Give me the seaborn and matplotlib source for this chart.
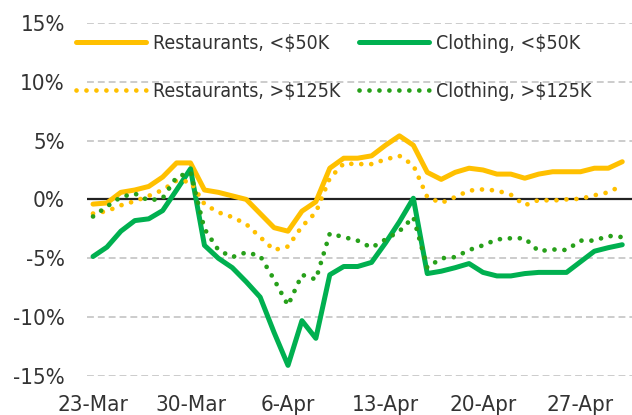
import pandas as pd
import numpy as np
import matplotlib
matplotlib.use('Agg')
import matplotlib.pyplot as plt
import seaborn as sns

# daily values, 23-Mar to 30-Apr (% yoy)
dates = pd.date_range('2020-03-23', '2020-04-30', freq='D')

rest_low = [-0.4, -0.3, 0.6, 0.8, 1.1, 1.9, 3.1, 3.1, 0.8, 0.6, 0.3, 0.0, -1.2,
            -2.4, -2.7, -1.0, -0.2, 2.65, 3.5, 3.5, 3.7, 4.6, 5.4, 4.6, 2.3, 1.7,
            2.3, 2.65, 2.5, 2.15, 2.15, 1.8, 2.15, 2.35, 2.35, 2.35, 2.65, 2.65, 3.2]
cloth_low = [-4.85, -4.05, -2.7, -1.8, -1.65, -0.95, 0.8, 2.6, -3.9, -5.0, -5.8,
             -7.0, -8.3, -11.3, -14.1, -10.3, -11.8, -6.4, -5.7, -5.7, -5.35, -3.7,
             -1.9, 0.1, -6.3, -6.1, -5.8, -5.45, -6.2, -6.5, -6.5, -6.3, -6.2, -6.2,
             -6.2, -5.3, -4.4, -4.1, -3.85]
rest_high = [-1.2, -1.0, -0.5, -0.15, 0.3, 0.8, 1.6, 1.5, -0.4, -1.1, -1.5, -2.1,
             -3.2, -4.3, -4.0, -2.3, -1.1, 1.8, 3.05, 3.0, 3.0, 3.4, 3.7, 2.9, 0.2,
             -0.3, 0.2, 0.75, 0.85, 0.75, 0.4, -0.5, -0.05, -0.1, 0.0, 0.05, 0.35,
             0.6, 1.2]
cloth_high = [-1.45, -0.6, 0.2, 0.5, -0.1, 0.1, 1.9, 2.3, -2.5, -4.3, -4.9, -4.5,
              -4.8, -6.8, -9.0, -6.4, -6.8, -2.9, -3.2, -3.5, -4.1, -3.4, -2.7,
              -1.5, -5.8, -5.0, -4.9, -4.3, -3.9, -3.4, -3.3, -3.3, -4.4, -4.25,
              -4.3, -3.5, -3.5, -3.1, -3.2]

labels = ['Restaurants, <$50K', 'Clothing, <$50K',
          'Restaurants, >$125K', 'Clothing, >$125K']
tick_dates = pd.to_datetime(['2020-03-23', '2020-03-30', '2020-04-06',
                             '2020-04-13', '2020-04-20', '2020-04-27'])
tick_labels = ['23-Mar', '30-Mar', '6-Apr', '13-Apr', '20-Apr', '27-Apr']
y_ticks = [-15, -10, -5, 0, 5, 10, 15]

sns.set_style('white')
plt.rcParams['font.family'] = ['DejaVu Sans']
plt.rcParams['font.stretch'] = 'condensed'
plt.rcParams['font.weight'] = 'light'
text_color = '#333333'

fig = plt.figure(figsize=(6.32, 4.15), dpi=100)
ax = fig.add_axes([0.138, 0.094, 0.862, 0.851])

yellow = '#FFC000'
green = '#00B050'
dark_green = '#27A01A'
dot = (0, (0.01, 2.1))

df = pd.DataFrame({'date': dates, 'rest_low': rest_low, 'cloth_low': cloth_low,
                   'rest_high': rest_high, 'cloth_high': cloth_high})

for y in y_ticks:
    if y == 0:
        ax.axhline(0, color='#222222', lw=1.6, zorder=1)
    else:
        ax.axhline(y, color='#BFBFBF', lw=1.1, linestyle=(0, (4.5, 2.6)), zorder=0)

sns.lineplot(data=df, x='date', y='rest_low', ax=ax, color=yellow, lw=3.6,
             label=labels[0], solid_capstyle='round', zorder=3)
sns.lineplot(data=df, x='date', y='cloth_low', ax=ax, color=green, lw=3.6,
             label=labels[1], solid_capstyle='round', zorder=3)
sns.lineplot(data=df, x='date', y='rest_high', ax=ax, color=yellow, lw=3.4,
             linestyle=dot, dash_capstyle='round', label=labels[2], zorder=4)
sns.lineplot(data=df, x='date', y='cloth_high', ax=ax, color=dark_green, lw=3.4,
             linestyle=dot, dash_capstyle='round', label=labels[3], zorder=4)

ax.set_ylim(-15, 15)
ax.set_xlim(dates[0] - pd.Timedelta(hours=10), dates[0] + pd.Timedelta(days=38.7))
ax.set_yticks(y_ticks)
ax.set_yticklabels([f'{v}%' for v in y_ticks])
ax.set_xticks(tick_dates)
ax.set_xticklabels(tick_labels)
ax.tick_params(axis='both', length=0, labelsize=16, colors=text_color)
ax.tick_params(axis='x', pad=14)
ax.tick_params(axis='y', pad=16)
ax.set_xlabel('')
ax.set_ylabel('')
for s in ax.spines.values():
    s.set_visible(False)

# legend fills column-wise, so reorder to get the two rows right
handles, names = ax.get_legend_handles_labels()
order = [0, 2, 1, 3]
ax.legend([handles[i] for i in order], [names[i] for i in order],
          loc='upper left', bbox_to_anchor=(0.121, 0.918), bbox_transform=fig.transFigure,
          ncol=2, frameon=False, fontsize=14, handlelength=3.6, handletextpad=0.36,
          columnspacing=0.95, labelspacing=1.47, borderpad=0, borderaxespad=0,
          labelcolor=text_color)

fig.savefig('out.png', dpi=100)
